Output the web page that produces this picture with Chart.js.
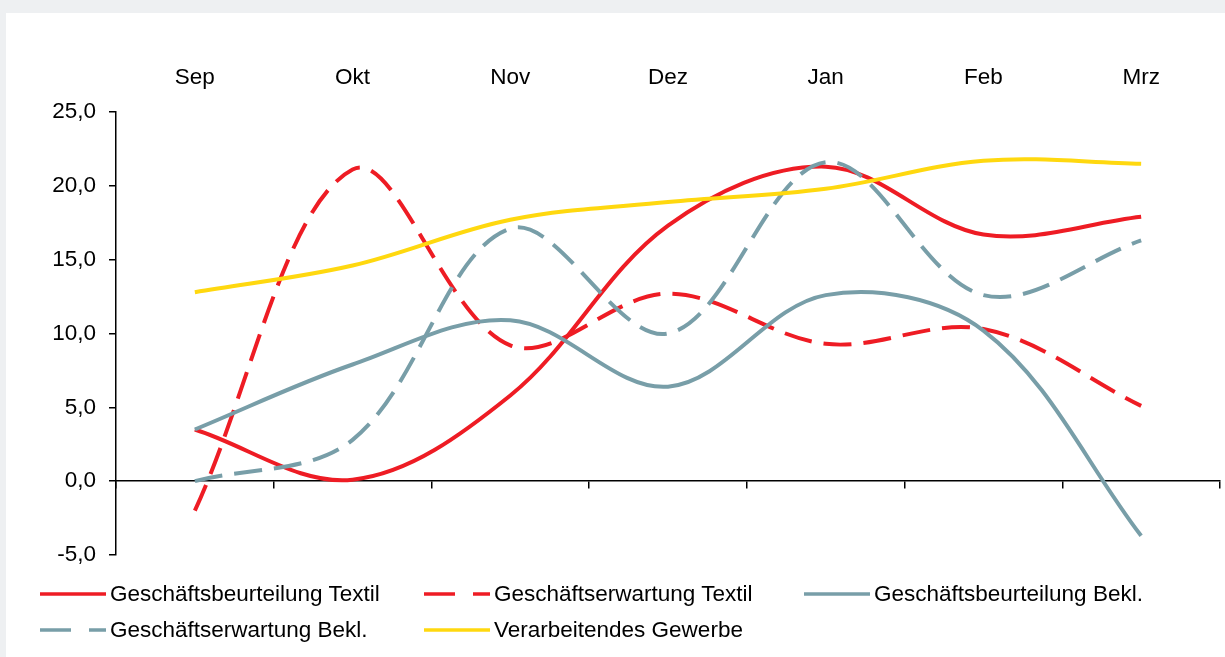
<!DOCTYPE html>
<html>
<head>
<meta charset="utf-8">
<script src="https://cdn.jsdelivr.net/npm/chart.js@4"></script>
<style>
  html, body { margin: 0; padding: 0; background: #eef0f2; }
  #card { position: absolute; left: 6px; top: 13px; width: 1219px; height: 644px; background: #fff; }
  #wrap { position: absolute; left: 0; top: 0; width: 1225px; height: 657px; }
  .leg { position: absolute; font: 22.5px "Liberation Sans", Arial, sans-serif; color: #000; white-space: nowrap; }
  .leg svg { position: absolute; left: 0; top: 0; }
  .leg span { position: absolute; top: -13px; }
</style>
</head>
<body>
<div id="card"></div>
<div id="wrap"><canvas id="chart" width="1225" height="657"></canvas></div>
<div id="legend"></div>
<script>
// categories and series
var months = ["Sep", "Okt", "Nov", "Dez", "Jan", "Feb", "Mrz"];
var beurteilungTextil = [3.5, 0.1, 5.8, 17.3, 21.3, 16.7, 17.9];
var erwartungTextil = [-2.0, 21.1, 9.2, 12.7, 9.3, 10.3, 5.1];
var beurteilungBekl = [3.5, 7.9, 10.9, 6.4, 12.6, 10.2, -3.7];
var erwartungBekl = [0.0, 2.8, 17.1, 10.0, 21.6, 12.6, 16.3];
var verarbeitendes = [12.8, 14.6, 17.7, 18.9, 19.8, 21.7, 21.5];
var yTicks = [-5, 0, 5, 10, 15, 20, 25];

var RED = "#ee1c24";
var GREY = "#789ea8";
var YELLOW = "#ffd80f";
var DASH = [28, 12];

var series = [
    { label: "Geschäftsbeurteilung Textil", data: beurteilungTextil, color: RED, dash: [], order: 5 },
    { label: "Geschäftserwartung Textil", data: erwartungTextil, color: RED, dash: DASH, order: 4 },
    { label: "Geschäftsbeurteilung Bekl.", data: beurteilungBekl, color: GREY, dash: [], order: 3 },
    { label: "Geschäftserwartung Bekl.", data: erwartungBekl, color: GREY, dash: DASH, order: 2 },
    { label: "Verarbeitendes Gewerbe", data: verarbeitendes, color: YELLOW, dash: [], order: 1 }
];

var fontSpec = { family: "'Liberation Sans', Arial, sans-serif", size: 22.5 };

new Chart(document.getElementById("chart").getContext("2d"), {
    type: "line",
    data: {
        labels: months,
        datasets: series.map(function (s) {
            return {
                label: s.label,
                data: s.data,
                borderColor: s.color,
                backgroundColor: s.color,
                borderWidth: 4,
                borderDash: s.dash,
                pointRadius: 0,
                tension: 0.35,
                fill: false,
                order: s.order,
                xAxisID: "x"
            };
        })
    },
    options: {
        responsive: false,
        animation: false,
        layout: { padding: { left: 0, top: 0, right: 5, bottom: 102 } },
        plugins: { legend: { display: false }, tooltip: { enabled: false } },
        scales: {
            x: {
                type: "category",
                position: "top",
                offset: true,
                border: { display: false },
                grid: { display: false },
                ticks: { color: "#000", font: fontSpec, padding: 13, maxRotation: 0 },
                afterFit: function (s) { s.height = 112; }
            },
            x2: {
                type: "category",
                labels: months,
                position: { y: 0 },
                offset: true,
                border: { display: true, color: "#000", width: 1.5 },
                grid: { display: true, offset: true, drawOnChartArea: false, drawTicks: true, tickLength: 7, color: "#000", lineWidth: 1.5 },
                ticks: { display: false }
            },
            y: {
                min: -5,
                max: 25,
                afterBuildTicks: function (s) { s.ticks = yTicks.map(function (v) { return { value: v }; }); },
                border: { display: true, color: "#000", width: 1.5 },
                grid: { drawOnChartArea: false, drawTicks: true, tickLength: 7, color: "#000", lineWidth: 1.5 },
                ticks: {
                    color: "#000",
                    font: fontSpec,
                    padding: 13,
                    callback: function (v) { return v.toFixed(1).replace(".", ","); }
                },
                afterFit: function (s) { s.width = 116; }
            }
        }
    }
});

// legend laid out like the original (3 columns, 2 rows)
var legendPos = [
    { x: 40, y: 594 }, { x: 424, y: 594 }, { x: 804, y: 594 },
    { x: 40, y: 630 }, { x: 424, y: 630 }
];
var legend = document.getElementById("legend");
series.forEach(function (s, i) {
    var p = legendPos[i];
    var d = document.createElement("div");
    d.className = "leg";
    d.style.left = p.x + "px";
    d.style.top = p.y + "px";
    var dashAttr = s.dash.length ? ' stroke-dasharray="31,18"' : "";
    d.innerHTML = '<svg width="66" height="4" style="top:-2px"><line x1="0" y1="2" x2="66" y2="2" stroke="' + s.color +
        '" stroke-width="3.5"' + dashAttr + '/></svg><span style="left:70px">' + s.label + '</span>';
    legend.appendChild(d);
});
</script>
</body>
</html>
